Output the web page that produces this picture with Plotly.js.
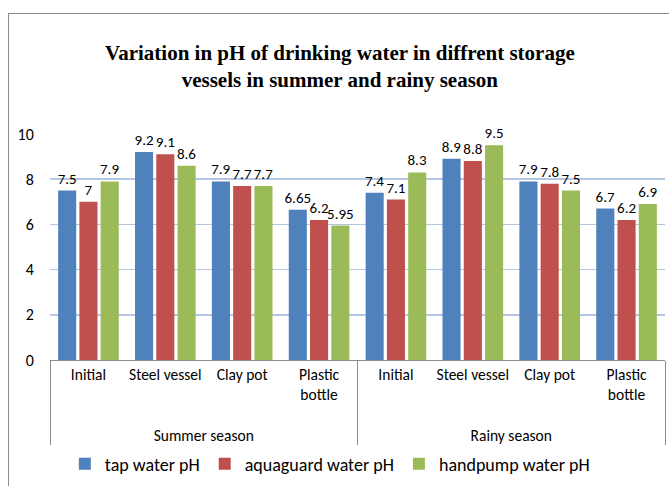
<!DOCTYPE html>
<html><head><meta charset="utf-8">
<script src="https://cdn.plot.ly/plotly-3.0.1.min.js"></script>
<style>
html,body{margin:0;padding:0;background:#fff;overflow:hidden;}
#chart{width:669px;height:486px;}
#frame{position:absolute;left:8px;top:13px;width:700px;height:500px;border:1.5px solid #8c8c8c;pointer-events:none;}
</style></head>
<body>
<div id="chart"></div>
<div id="frame"></div>
<script>
const seasons = ["Summer season","Summer season","Summer season","Summer season","Rainy season","Rainy season","Rainy season","Rainy season"];
const vessels = ["Initial","Steel vessel","Clay pot","Plastic<br>bottle<br>\u00a0","Initial","Steel vessel","Clay pot","Plastic<br>bottle<br>\u00a0"];
const tapWater = [7.5, 9.2, 7.9, 6.65, 7.4, 8.9, 7.9, 6.7];
const aquaguardWater = [7, 9.1, 7.7, 6.2, 7.1, 8.8, 7.8, 6.2];
const handpumpWater = [7.9, 8.6, 7.7, 5.95, 8.3, 9.5, 7.5, 6.9];
const seriesNames = ["tap water pH","aquaguard water pH","handpump water pH"];
const colors = ["#4f81bd","#c0504d","#9bbb59"];
const yTicks = [0,2,4,6,8,10];

const fontFam = "Carlito, 'Liberation Sans Narrow', 'Liberation Sans', Arial, sans-serif";
const xData = [seasons, vessels];
const vals = [tapWater, aquaguardWater, handpumpWater];
const traces = vals.map((v,i)=>({
  type:'bar', x:xData, y:v, name:seriesNames[i],
  marker:{color:colors[i], line:{color:'#ffffff', width:0}},
  text:v.map(String), textposition:'outside', cliponaxis:false, constraintext:'none',
  textfont:{family:fontFam, size:15, color:'#000'},
  hoverinfo:'none'
}));

const layout = {
  width:669, height:486,
  margin:{l:50, r:4, t:134, b:126},
  paper_bgcolor:'#fff', plot_bgcolor:'#fff',
  barmode:'group', bargap:0.17, bargroupgap:0.15,
  showlegend:true,
  legend:{orientation:'h', x:0.455, xanchor:'center', y:-0.46, yanchor:'middle',
    font:{family:fontFam, size:18, color:'#000'}, itemwidth:30, tracegroupgap:0},
  title:{text:'<b>Variation in pH of drinking water in diffrent storage<br>vessels in summer and rainy season</b>',
    font:{family:"'Liberation Serif','Times New Roman',serif", size:21, color:'#000'},
    x:0.508, xanchor:'center', xref:'container', y:0.877, yanchor:'middle'},
  xaxis:{type:'multicategory', automargin:false, tickangle:0, showline:true, linecolor:'#8c8c8c', linewidth:1,
    showdividers:true, dividercolor:'#8c8c8c', dividerwidth:1,
    tickfont:{family:fontFam, size:15.5, color:'#000'}, showgrid:false, ticks:''},
  yaxis:{range:[0,10], tickvals:yTicks, ticktext:yTicks.map(String), automargin:false,
    showgrid:true, gridcolor:'#b3c7e5', gridwidth:1.5, zeroline:false, showline:false,
    ticks:'outside', ticklen:12, tickcolor:'rgba(0,0,0,0)',
    tickfont:{family:fontFam, size:16, color:'#000'}}
};
Plotly.newPlot('chart', traces, layout, {displayModeBar:false, staticPlot:true});
</script>
</body></html>
